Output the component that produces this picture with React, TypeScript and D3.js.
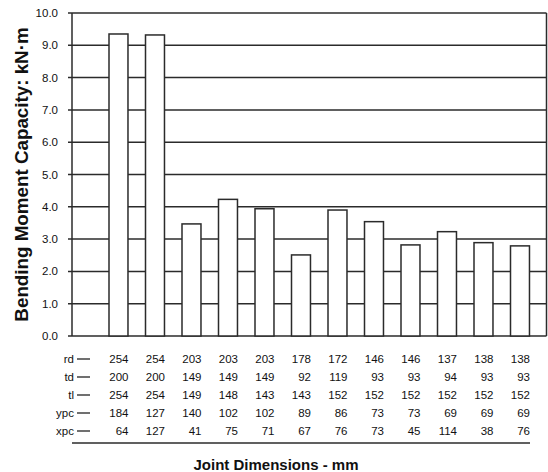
import React, { useEffect, useRef } from "react";
import * as d3 from "d3";

// bending moment capacity, kN·m
const capacity = [9.35, 9.32, 3.47, 4.23, 3.94, 2.51, 3.9, 3.54, 2.82, 3.23, 2.89, 2.79];

// joint dimension rows, mm
const rowNames = ["rd", "td", "tl", "ypc", "xpc"];
const rd = [254, 254, 203, 203, 203, 178, 172, 146, 146, 137, 138, 138];
const td = [200, 200, 149, 149, 149, 92, 119, 93, 93, 94, 93, 93];
const tl = [254, 254, 149, 148, 143, 143, 152, 152, 152, 152, 152, 152];
const ypc = [184, 127, 140, 102, 102, 89, 86, 73, 73, 69, 69, 69];
const xpc = [64, 127, 41, 75, 71, 67, 76, 73, 45, 114, 38, 76];

const yTicks = [0, 1, 2, 3, 4, 5, 6, 7, 8, 9, 10];

const W = 548;
const H = 472;
const FONT = "'Liberation Sans', Arial, sans-serif";

export default function App() {
  const svgRef = useRef<SVGSVGElement>(null);

  useEffect(() => {
    const svg = d3.select(svgRef.current);
    svg.selectAll("*").remove();

    const left = 72;
    const right = 546.5;
    const top = 13;
    const bottom = 336;

    const cols = capacity.map((_, i) => `c${i}`);
    // first band is left empty (row labels sit under it)
    const x = d3.scaleBand<string>().domain(["label", ...cols]).range([left, right]).padding(0);
    const barW = x.bandwidth() * 0.52;
    const y = d3.scaleLinear().domain([0, 10]).range([bottom, top]);
    const ink = "#2b2b2b";

    // gridlines
    svg
      .append("g")
      .selectAll("line")
      .data(yTicks)
      .join("line")
      .attr("x1", left - 4)
      .attr("x2", right)
      .attr("y1", (d) => y(d))
      .attr("y2", (d) => y(d))
      .attr("stroke", ink)
      .attr("stroke-width", 1.5);

    // frame
    svg
      .append("line")
      .attr("x1", left)
      .attr("x2", left)
      .attr("y1", top)
      .attr("y2", bottom)
      .attr("stroke", ink)
      .attr("stroke-width", 1.5);
    svg
      .append("line")
      .attr("x1", right)
      .attr("x2", right)
      .attr("y1", top)
      .attr("y2", bottom)
      .attr("stroke", ink)
      .attr("stroke-width", 1.5);

    // tick labels
    svg
      .append("g")
      .selectAll("text")
      .data(yTicks)
      .join("text")
      .attr("x", 58)
      .attr("y", (d) => y(d) + 4)
      .attr("text-anchor", "end")
      .attr("font-family", FONT)
      .attr("font-size", 11.5)
      .attr("fill", "#111")
      .text((d) => d.toFixed(1));

    // bars
    svg
      .append("g")
      .selectAll("rect")
      .data(capacity)
      .join("rect")
      .attr("x", (_, i) => (x(cols[i]) as number) + 0.5)
      .attr("y", (d) => y(d))
      .attr("width", barW)
      .attr("height", (d) => bottom - y(d))
      .attr("fill", "#fff")
      .attr("stroke", ink)
      .attr("stroke-width", 1.5);

    // y title
    svg
      .append("text")
      .attr("transform", `translate(28, ${(top + bottom) / 2}) rotate(-90)`)
      .attr("text-anchor", "middle")
      .attr("font-family", FONT)
      .attr("font-weight", "bold")
      .attr("font-size", 18.8)
      .attr("fill", "#111")
      .text("Bending Moment Capacity: kN·m");

    // data table
    const rows = [rd, td, tl, ypc, xpc];
    const rowY = [363, 381, 399, 417, 435];
    rows.forEach((vals, r) => {
      const g = svg.append("g");
      g.append("text")
        .attr("x", 74)
        .attr("y", rowY[r])
        .attr("text-anchor", "end")
        .attr("font-family", FONT)
        .attr("font-size", 11.5)
        .attr("fill", "#111")
        .text(rowNames[r]);
      g.append("line")
        .attr("x1", 77)
        .attr("x2", 90)
        .attr("y1", rowY[r] - 4)
        .attr("y2", rowY[r] - 4)
        .attr("stroke", "#111")
        .attr("stroke-width", 1.2);
      g.selectAll("text.v")
        .data(vals)
        .join("text")
        .attr("class", "v")
        .attr("x", (_, i) => (x(cols[i]) as number) + barW + 1)
        .attr("y", rowY[r])
        .attr("text-anchor", "end")
        .attr("font-family", FONT)
        .attr("font-size", 11.5)
        .attr("fill", "#111")
        .text((d) => d);
    });

    svg
      .append("line")
      .attr("x1", left)
      .attr("x2", 530)
      .attr("y1", 443)
      .attr("y2", 443)
      .attr("stroke", ink)
      .attr("stroke-width", 1.5);

    svg
      .append("text")
      .attr("x", 276)
      .attr("y", 470)
      .attr("text-anchor", "middle")
      .attr("font-family", FONT)
      .attr("font-weight", "bold")
      .attr("font-size", 15)
      .attr("fill", "#111")
      .text("Joint Dimensions - mm");
  }, []);

  return (
    <svg
      ref={svgRef}
      width={W}
      height={H}
      style={{ position: "absolute", left: 0, top: 0, background: "#fff" }}
    />
  );
}
